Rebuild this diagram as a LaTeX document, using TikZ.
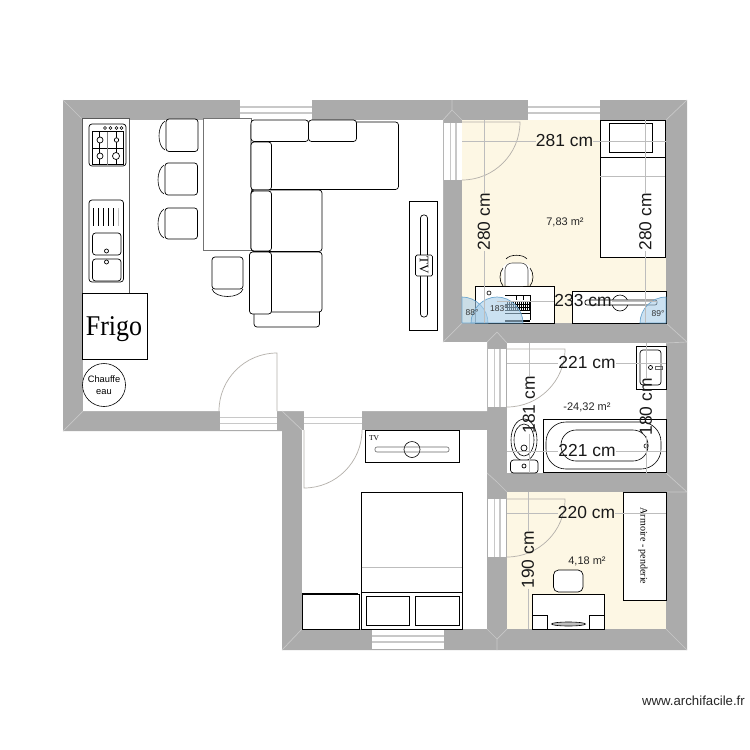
\documentclass[tikz,border=0pt]{standalone}
\usepackage{fontspec}
\setmainfont{Liberation Sans}
\newfontfamily\serifface{Liberation Serif}
\definecolor{wallc}{HTML}{ABABAB}
\definecolor{creamc}{HTML}{FDF7E4}
\definecolor{mitrec}{HTML}{C8C8C8}
\definecolor{doorc}{HTML}{B4B0AA}
\definecolor{dimc}{HTML}{BDBDBD}
\definecolor{blueprot}{HTML}{A9CDE8}
\definecolor{blueedge}{HTML}{6FA8D0}
\newcommand{\hwin}[4]{%
  \fill[white] (#1,#3) rectangle (#2,#4);
  \draw[mitrec,line width=1.3pt] (#1,{#3+0.35*(#4-#3)}) -- (#2,{#3+0.35*(#4-#3)});
  \draw[mitrec,line width=1.3pt] (#1,{#3+0.65*(#4-#3)}) -- (#2,{#3+0.65*(#4-#3)});}
\newcommand{\vwin}[4]{%
  \fill[white] (#1,#3) rectangle (#2,#4);
  \draw[mitrec,line width=1.3pt] ({#1+0.35*(#2-#1)},#3) -- ({#1+0.35*(#2-#1)},#4);
  \draw[mitrec,line width=1.8pt] ({#1+0.65*(#2-#1)},#3) -- ({#1+0.65*(#2-#1)},#4);}
\tikzset{
  furn/.style={draw=black,line width=0.7pt,fill=white},
  furnr/.style={furn,rounded corners=3pt},
  thin line/.style={draw=black,line width=0.6pt},
  doorline/.style={draw=doorc,line width=0.7pt},
  mitre/.style={draw=mitrec,line width=0.7pt},
  dimline/.style={draw=dimc,line width=0.8pt},
  dimtext/.style={font=\fontsize{17.4}{20}\selectfont,inner sep=0pt,text=black!90},
  areatext/.style={font=\fontsize{11}{12}\selectfont,inner sep=0pt,text=black!85},
  prot/.style={fill=blueprot,fill opacity=0.6,draw=blueedge,line width=0.7pt},
  prottext/.style={font=\fontsize{8.5}{10}\selectfont,inner sep=0pt,text=black!80},
}
\begin{document}
\begin{tikzpicture}[x=1pt,y=-1pt]
\useasboundingbox (0,0) rectangle (750,750);
\fill[white] (0,0) rectangle (750,750);
% walls
\fill[wallc] (63,100) -- (687,100) -- (687,650) -- (282,650) -- (282,431) -- (63,431) -- cycle;
% rooms
\fill[white] (83,120) -- (443,120) -- (443,342) -- (487,342) -- (487,411) -- (83,411) -- cycle;
\fill[white] (302,430) rectangle (487,629);
\fill[white] (507,343) rectangle (666,473);
\fill[creamc] (462,120) rectangle (666,323);
\fill[creamc] (507,492) rectangle (666,629);
% mitres
\draw[mitre] (63,100) -- (83,120) (687,100) -- (666,120) (63,431) -- (83,411);
\draw[mitre] (452,100) -- (452,110) -- (443,120) (452,110) -- (462,120);
\draw[mitre] (687,342) -- (666,323) (443,342) -- (462,323) (497,332) -- (487,342) (497,332) -- (507,343);
\draw[mitre] (687,342) -- (666,343) (282,411) -- (302,430) (282,650) -- (302,629) (687,650) -- (666,629);
\draw[mitre] (687,492) -- (666,473) (687,492) -- (666,492) (497,482) -- (487,473) (497,482) -- (507,492);
\draw[mitre] (497,639) -- (487,629) (497,639) -- (507,629) (497,639) -- (497,650);
% windows
\hwin{240}{312}{100}{120}
\hwin{528}{600}{100}{120}
\hwin{220}{277}{411}{430}
\hwin{304}{362}{411}{430}
\hwin{372}{444}{629}{649}
\vwin{444}{462}{123}{180}
\vwin{488}{506}{349}{407}
\vwin{488}{506}{499}{557}
% doors
\draw[doorline] (462,122) -- (520,122) .. controls (520,154) and (494,180) .. (462,180);
\draw[doorline] (507,349) -- (565,349) .. controls (565,381) and (539,407) .. (507,407);
\draw[doorline] (507,499) -- (565,499) .. controls (565,531) and (539,557) .. (507,557);
\draw[doorline] (277,411) -- (277,353) .. controls (245,353) and (219,379) .. (219,411);
\draw[doorline] (304,430) -- (304,488) .. controls (336,488) and (362,462) .. (362,430);
% kitchen
\draw[furn,draw=black!65] (82,118) rectangle (129.5,293);
\draw[furn] (82,293) rectangle (147.5,359);
\node[inner sep=0pt,yscale=1.1,font=\serifface\fontsize{26}{28}\selectfont] (frigo) at (114,329) {Frigo};
\node[furn,circle,minimum size=43pt,inner sep=0pt,align=center,font=\fontsize{9.3}{12.5}\selectfont,line width=0.6pt] (chauffe) at (104,385) {Chauffe\\eau};
% hob
\draw[furnr] (89,124) rectangle (126,166);
\draw[thin line] (92,131.5) rectangle (123,164.5) (92,148) -- (123,148);
\draw[draw=black!50,line width=0.6pt] (107.5,131.5) -- (107.5,164.5);
\draw[thin line] (99.5,131.5) -- (99.5,164.5) (116.5,131.5) -- (116.5,164.5);
\draw[furn] (100,140) circle[radius=3] (116.5,140) circle[radius=2.2] (100,156) circle[radius=3] (116,156) circle[radius=3.5];
\draw[furn,line width=0.5pt] (105,128) circle[radius=1.5] (110.5,128) circle[radius=1.5] (116.5,128) circle[radius=1.5] (121.5,128) circle[radius=1.5];
% sink
\draw[furnr] (89,200) rectangle (123.5,282);
\foreach \xx in {93,98,103,108,113} \draw[thin line] (\xx,208) -- (\xx,226);
\draw[dimc,line width=0.6pt] (118,208) -- (118,226);
\draw[furnr] (92.5,233) rectangle (121,255);
\draw[furnr] (92.5,259) rectangle (121,281);
\draw[furn] (106.5,251) circle[radius=2] (106.5,262) circle[radius=2];
% chairs
\draw[furnr] (166,119) rectangle (198,151.5);
\draw[thin line] (165,121) .. controls (157,126) and (157,146) .. (165,150);
\draw[furnr] (165,163) rectangle (197.5,195);
\draw[thin line] (164,165) .. controls (156,170) and (156,190) .. (164,194);
\draw[furnr] (165,208) rectangle (197.5,239);
\draw[thin line] (164,209) .. controls (156,214) and (156,234) .. (164,238);
% bar
\draw[furn,draw=black!55] (203.5,118) rectangle (251.5,250.5);
\draw[furnr] (212,257) rectangle (243,289);
\draw[thin line] (212,289) .. controls (215,299) and (240,299) .. (243,289);
% sofa
\draw[furnr] (251,122) rectangle (398.5,189.5);
\draw[furnr,rounded corners=3pt] (251,120) rectangle (308.5,141.5);
\draw[furnr] (308.5,120) rectangle (356.5,141.5);
\draw[furnr] (251,142) rectangle (271.5,190);
\draw[furnr] (251,190) rectangle (322,251.5);
\draw[furnr] (251,191) rectangle (271.5,251);
\draw[furnr] (254,300) rectangle (319.5,327);
\draw[furnr] (250,252) rectangle (322,312);
\draw[furnr] (249.5,252) rectangle (271.5,314);
% living TV
\draw[furn] (409.5,201) rectangle (437.5,330);
\draw[furnr] (420.5,215) rectangle (427.5,317);
\draw[furnr,rounded corners=1.5pt] (415.5,255) rectangle (432.5,276);
\node[inner sep=0pt,rotate=-90,font=\serifface\fontsize{13}{15}\selectfont] (tvliving) at (424,265.5) {TV};
% bed room 7,83
\draw[furn,fill=white] (600,120) rectangle (665,257);
\draw[thin line] (600,157) -- (665,157);
\draw[draw=dimc,line width=0.7pt] (600,176) -- (665,176);
\draw[furn] (609.5,123) rectangle (652.5,152);
% desk 7,83
\draw[furn] (475.5,286) rectangle (554.5,323);
\fill[white,rounded corners=8pt] (502,263) rectangle (531,286);
\draw[draw=black!70,line width=0.6pt,rounded corners=7pt] (505,286) -- (505,263) -- (528,263) -- (528,286);
\draw[thin line] (503,268) .. controls (499,273) and (499,281) .. (503,286) (530,268) .. controls (534,273) and (534,281) .. (530,286);
\draw[thin line] (506,259) .. controls (510,254) and (523,254) .. (527,259);
\draw[thin line] (505,295) -- (530,295) -- (530,320);
\fill[black] (505,320) rectangle (530,321.5);
\foreach \xx in {507,509,...,529} \draw[black,line width=0.7pt] (\xx,302) -- (\xx,311);
\draw[black,line width=0.6pt] (505,304) -- (530,304) (505,307) -- (530,307) (505,310) -- (530,310) (505,313) -- (530,313);
\draw[thin line] (516,295) -- (516,300) (523,295) -- (523,300);
\draw[thin line] (489,293) circle[radius=2];
% furniture right
\draw[furn] (572.5,291) rectangle (666,323);
\draw[thin line] (620,303) circle[radius=8];
\draw[furn,rounded corners=2pt] (585,300) rectangle (657,305);
% protractors
\path[prot] (462,323) -- (488,323) .. controls (488,309) and (476,297) .. (462,297) -- cycle;
\path[prot] (471,323) .. controls (471,309) and (483,297) .. (497,297) .. controls (511,297) and (523,309) .. (523,323) -- cycle;
\path[prot] (666,323) -- (640,323) .. controls (640,309) and (652,297) .. (666,297) -- cycle;
\node[prottext] (a88) at (472,313) {88°};
\node[prottext] (a183) at (499,309) {183°};
\node[prottext] (a89) at (658,314) {89°};
% bathroom
\draw[furn] (636,346) rectangle (666,389);
\draw[furnr] (640,350) rectangle (661,385);
\draw[furn] (650.5,367.5) circle[radius=2];
\draw[draw=black!60,line width=0.5pt] (655.5,366) rectangle (662,369);
\draw[furn] (543.5,419) rectangle (666,472.5);
\draw[thin line,rounded corners=20pt] (546,422) rectangle (661,469);
\draw[thin line,rounded corners=15pt] (561,430) rectangle (648,461);
\draw[thin line] (646,446) circle[radius=2];
\draw[thin line] (524,440) ellipse[x radius=13,y radius=21];
\draw[thin line] (524,440) ellipse[x radius=10,y radius=16];
\draw[furn] (524,448) circle[radius=3];
\draw[furnr] (510.5,460) rectangle (538,473);
\draw[furn] (524,466) circle[radius=2];
% small room
\draw[furn] (623.5,492) rectangle (666,600.5);
\node[inner sep=0pt,rotate=-90,font=\serifface\fontsize{10}{11}\selectfont] (armoire) at (643,546) {Armoire - penderie};
\draw[furnr,rounded corners=5pt] (553.5,570) rectangle (583,592);
\draw[furn] (532,594) rectangle (604,629);
\draw[furn] (532,615) rectangle (547,629);
\draw[furn] (589,615) rectangle (604,629);
\draw[thin line,fill=black!25] (568.5,624) ellipse[x radius=17,y radius=2];
% bedroom
\draw[furn] (365,430) rectangle (459,462.5);
\draw[thin line] (412,449.5) circle[radius=8];
\draw[thin line,draw=black!60,rounded corners=2pt] (375,447) rectangle (449,452);
\node[inner sep=0pt,font=\serifface\fontsize{7.5}{9}\selectfont] (tvbed) at (374,438.5) {TV};
\draw[furn] (361.5,492) rectangle (462,629);
\draw[draw=dimc,line width=0.8pt] (361.5,567) -- (462,567);
\draw[thin line] (361.5,592) -- (462,592);
\draw[furn] (366,596) rectangle (409.5,625.5);
\draw[furn] (415.5,596) rectangle (459.5,625.5);
\draw[furn] (302,594.5) rectangle (359,629);
\draw[black,line width=1.2pt] (302,594) -- (358,594);
% dimensions
\node[dimtext] (d281) at (564.5,141) {281 cm};
\draw[dimline] (462,141) -- (d281.west) (d281.east) -- (666,141);
\node[dimtext,rotate=90] (d280a) at (484,222) {280 cm};
\draw[dimline] (484,120) -- (d280a.east) (d280a.west) -- (484,323);
\node[dimtext,rotate=90] (d280b) at (645.5,222) {280 cm};
\draw[dimline] (645.5,120) -- (d280b.east) (d280b.west) -- (645.5,323);
\node[dimtext] (d233) at (583,301) {233 cm};
\draw[dimline] (497,301) -- (d233.west) (d233.east) -- (657,301);
\node[dimtext] (d221a) at (587,363) {221 cm};
\draw[dimline] (507,363) -- (d221a.west) (d221a.east) -- (666,363);
\node[dimtext] (d221b) at (587,451) {221 cm};
\draw[dimline] (507,451) -- (d221b.west) (d221b.east) -- (666,451);
\node[dimtext,rotate=90] (d181) at (529,405) {181 cm};
\draw[dimline] (529,343) -- (d181.east) (d181.west) -- (529,473);
\node[dimtext,rotate=90] (d180) at (646,407) {180 cm};
\draw[dimline] (646,343) -- (d180.east) (d180.west) -- (646,473);
\node[dimtext] (d220) at (586.5,513) {220 cm};
\draw[dimline] (507,513) -- (d220.west) (d220.east) -- (666,513);
\node[dimtext,rotate=90] (d190) at (528,560) {190 cm};
\draw[dimline] (528,492) -- (d190.east) (d190.west) -- (528,629);
% areas
\node[areatext] (a1) at (565,222) {7,83 m²};
\node[areatext] (a2) at (587,407) {-24,32 m²};
\node[areatext] (a3) at (587,561) {4,18 m²};
\node[inner sep=0pt,anchor=east,font=\fontsize{13.2}{15}\selectfont,text=black!85] (credit) at (745,701) {www.archifacile.fr};
\end{tikzpicture}
\end{document}
